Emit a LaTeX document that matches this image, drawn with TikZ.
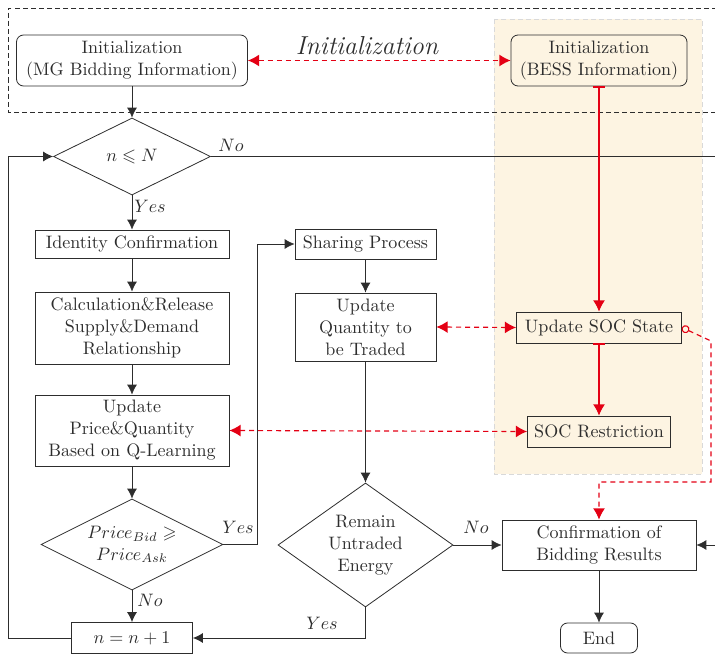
\documentclass[tikz,border=0pt]{standalone}
\usepackage{amssymb}
\usetikzlibrary{arrows.meta,shapes.geometric}
\definecolor{myred}{RGB}{228,0,20}
\definecolor{cream}{RGB}{253,244,226}
\definecolor{ink}{RGB}{45,45,45}
\newcommand{\pxu}{0.555pt}
\tikzset{rtip/.tip={Latex[length=6.2pt,width=6.6pt]}, otip/.tip={Circle[open,length=4.4pt,width=4.4pt,line width=0.6pt]}}
\begin{document}
\begin{tikzpicture}[x=\pxu,y=-\pxu,
  font=\fontsize{10}{12.2}\selectfont,
  box/.style={draw=ink, text=ink, line width=0.45pt, align=center, inner sep=0pt},
  rbox/.style={box, rounded corners=3.9pt},
  dia/.style={draw=ink, text=ink, line width=0.45pt, align=center, diamond, inner sep=0pt},
  flow/.style={draw=ink, line width=0.45pt, -{Latex[length=5.5pt,width=5.5pt]}},
  plain/.style={draw=ink, line width=0.45pt},
  rsolid/.style={draw=myred, line width=0.65pt, {Bar[width=7.2pt,line width=0.9pt]}-{Latex[length=6.2pt,width=6.6pt]}},
  rdash/.style={draw=myred, line width=0.65pt, dash pattern=on 2.8pt off 2.2pt},
  lab/.style={text=ink, inner sep=0pt}]
\useasboundingbox (0,0) rectangle (715,655);
% BESS background
\fill[cream] (494,19) rectangle (702,474);
\draw[black!15, line width=0.55pt, dash pattern=on 2.8pt off 1.7pt] (494,19) rectangle (702,474);
% Initialization frame
\draw[ink, line width=0.55pt, dash pattern=on 2.8pt off 1.7pt] (725,8) -- (8,8) -- (8,112) -- (725,112);
\node[lab, font=\Large\itshape] (initlab) at (367,46) {Initialization};
% nodes
\node[rbox, minimum width=231*\pxu, minimum height=51*\pxu] (mg) at (132,60.5) {Initialization\\(MG Bidding Information)};
\node[rbox, minimum width=176*\pxu, minimum height=51*\pxu] (bess) at (599,60.5) {Initialization\\(BESS Information)};
\node[dia, minimum width=157*\pxu, minimum height=77*\pxu, aspect=2] (d1) at (132,156.5) {$n\leqslant N$};
\node[box, minimum width=194*\pxu, minimum height=28*\pxu] (id) at (132,244) {Identity Confirmation};
\node[box, minimum width=194*\pxu, minimum height=72*\pxu] (calc) at (132,328) {Calculation\&Release\\Supply\&Demand\\Relationship};
\node[box, minimum width=194*\pxu, minimum height=71*\pxu] (upd) at (132,430.5) {Update\\Price\&Quantity\\Based on Q-Learning};
\node[dia, minimum width=182*\pxu, minimum height=91*\pxu, aspect=2] (d2) at (132,544.5) {$Price_{Bid}\geqslant$\\$Price_{Ask}$};
\node[box, minimum width=121*\pxu, minimum height=31*\pxu] (nn) at (132,638) {$n=n+1$};
\node[box, minimum width=141*\pxu, minimum height=30*\pxu] (share) at (365.5,244) {Sharing Process};
\node[box, minimum width=141*\pxu, minimum height=68*\pxu] (uq) at (365.5,327) {Update\\Quantity to\\be Traded};
\node[dia, minimum width=175*\pxu, minimum height=124*\pxu, aspect=1.41] (d3) at (365.5,545) {Remain\\Untraded\\Energy};
\node[box, minimum width=194*\pxu, minimum height=50*\pxu] (conf) at (599,545) {Confirmation of\\Bidding Results};
\node[rbox, minimum width=77*\pxu, minimum height=30*\pxu] (end) at (599,638) {End};
\node[box, minimum width=165*\pxu, minimum height=31*\pxu] (soc) at (599,327.5) {Update SOC State};
\node[box, minimum width=143*\pxu, minimum height=31*\pxu] (socr) at (599,431.5) {SOC Restriction};
% helper coordinates
\coordinate (noend) at (716,156.5);
\coordinate (rin) at (716,545);
\coordinate (loopx) at (8,0);
\coordinate (yesx) at (257,0);
\coordinate (rc1) at (711,341);
\coordinate (rc2) at (711,482);
\coordinate (rc3) at (599,482);
% black flow
\draw[flow] (mg) -- (d1);
\draw[plain] (d1.east) -- (noend);
\node[lab, anchor=south west] (nol) at (218,152) {$No$};
\draw[flow] (d1) -- (id);
\node[lab, anchor=west] (yesl) at (134,206) {$Yes$};
\draw[flow] (id) -- (calc);
\draw[flow] (calc) -- (upd);
\draw[flow] (upd) -- (d2);
\draw[flow] (d2) -- (nn);
\node[lab, anchor=west] (no2) at (137,600) {$No$};
\draw[flow] (d2.east) -| (yesx |- share) -- (share.west);
\node[lab] (yes2) at (238,527) {$Yes$};
\draw[flow] (nn.west) -| (loopx |- d1) -- (d1.west);
\draw[flow] (share) -- (uq);
\draw[flow] (uq) -- (d3);
\draw[flow] (d3.east) -- (conf.west);
\node[lab] (no3) at (476,527) {$No$};
\draw[flow] (d3.south) |- (nn.east);
\node[lab] (yes3) at (322,623) {$Yes$};
\draw[flow] (rin) -- (conf.east);
\draw[flow] (conf) -- (end);
% red connections
\draw[rsolid] (bess.south) -- (soc.north);
\draw[rsolid] (soc.south) -- (socr.north);
\draw[rdash, {rtip}-{rtip}] (mg.east) -- (bess.west);
\draw[rdash, {rtip}-{rtip}] (uq.east) -- (soc.west);
\draw[rdash, {rtip}-{rtip}] (upd.east) -- (socr.west);
\draw[rdash, {otip}-{rtip}] (soc.east) -- (rc1) -- (rc2) -- (rc3) -- (conf.north);
\end{tikzpicture}
\end{document}
